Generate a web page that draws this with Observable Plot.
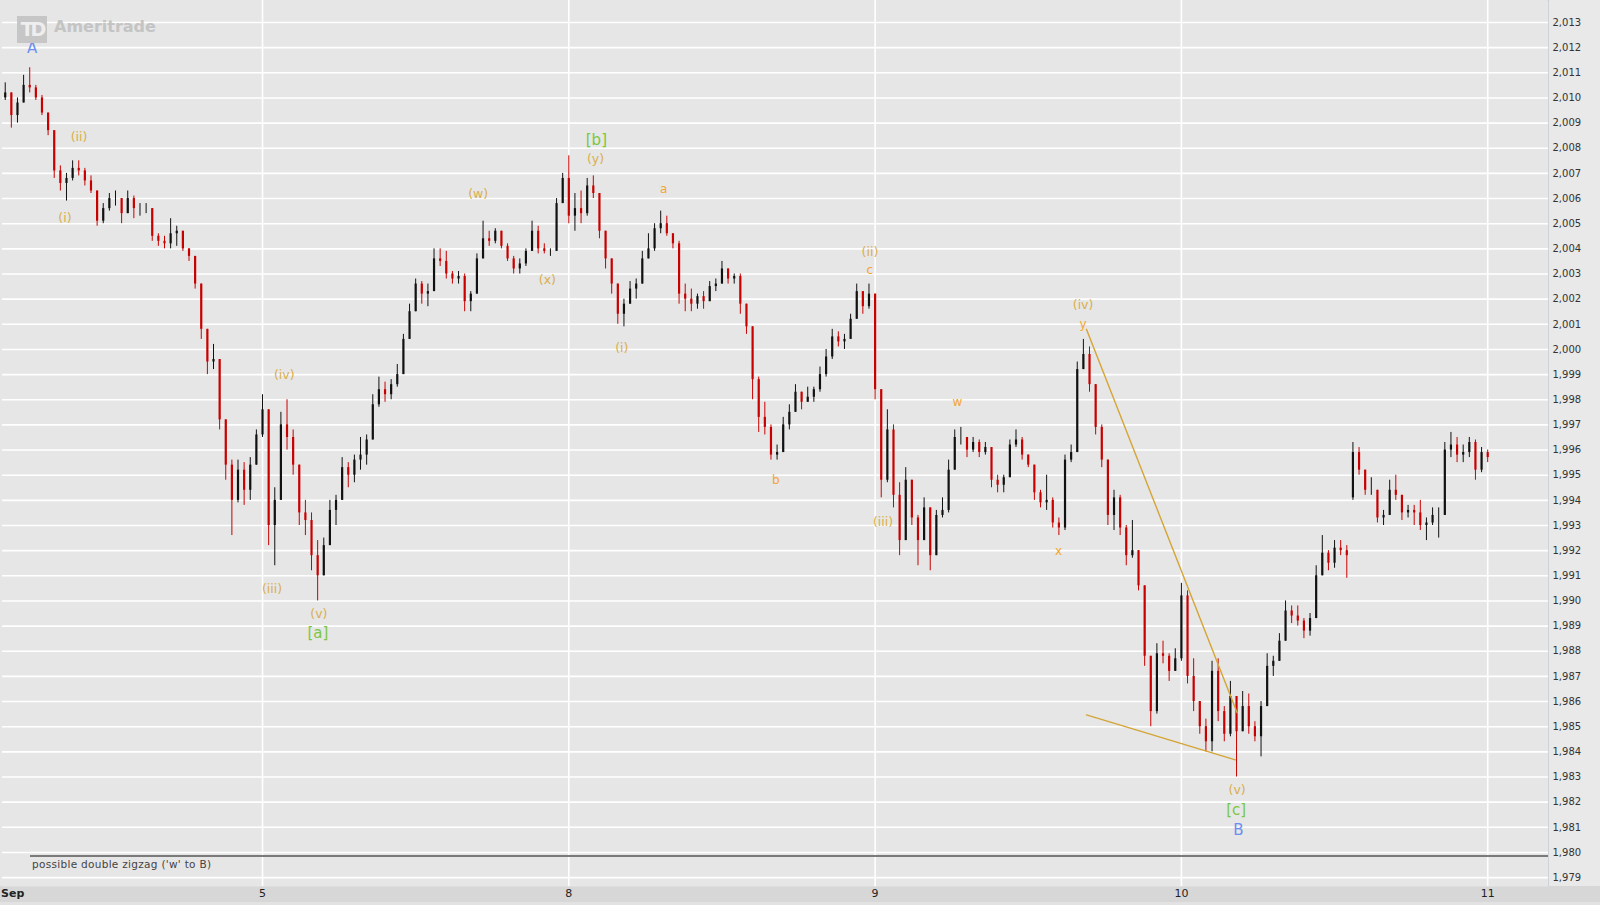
<!DOCTYPE html>
<html><head><meta charset="utf-8">
<script src="https://cdn.jsdelivr.net/npm/d3@7"></script>
<script src="https://cdn.jsdelivr.net/npm/@observablehq/plot@0.6"></script>
<style>
html,body{margin:0;padding:0;background:#e6e6e6;}
#wrap{position:relative;width:1600px;height:905px;overflow:hidden;font-family:"DejaVu Sans",Verdana,sans-serif;}
#raxis{position:absolute;left:1548px;top:0;width:52px;height:886px;background:#e9e9e9;border-left:1px solid #b4c0c8;box-sizing:border-box;}
#baxis{position:absolute;left:0;top:886px;width:1600px;height:16px;background:#d7d7d7;}
#baxis2{position:absolute;left:0;top:902px;width:1600px;height:3px;background:#e2e2e2;}
#chart{position:absolute;left:0;top:0;}
#noteline{position:absolute;left:30px;top:855px;width:1518px;height:0;border-top:2px solid #7a7a7a;}
#note{position:absolute;left:32px;top:858px;font-size:10.5px;color:#444;letter-spacing:0.3px;}
#logo{position:absolute;left:17px;top:16px;}
#logo .td{position:absolute;left:0;top:0;width:30px;height:27px;background:#c6c6c6;color:#eeeeee;font-weight:bold;font-size:19px;line-height:27px;text-align:center;letter-spacing:-3px;}
#logo .am{position:absolute;left:37px;top:1px;color:#c4c4c4;font-weight:bold;font-size:16px;white-space:nowrap;}
#sep{position:absolute;left:1px;top:887px;font-size:11px;font-weight:bold;color:#222;}
</style></head>
<body><div id="wrap">
<div id="raxis"></div><div id="baxis"></div><div id="baxis2"></div>
<div id="chart"></div>
<div id="noteline"></div>
<div id="note">possible double zigzag ('w' to B)</div>
<div id="logo"><div class="td">TD</div><div class="am">Ameritrade</div></div>
<div id="sep">Sep</div>
</div>
<script>
// ---- bars: first bar time (days from the "5" tick) and step
const barStart = -0.84, barStep = 0.02;
const open = [
2010.0,2010.2,2009.3,2009.8,2010.5,2010.4,2010.0,2009.4,2008.7,2007.1,
2006.6,2006.8,2007.2,2007.1,2006.7,2006.3,2005.1,2005.6,2006.0,2006.0,
2005.4,2006.0,2005.6,2005.6,2005.6,2004.5,2004.3,2004.2,2004.6,2004.7,
2004.0,2003.7,2002.6,2000.8,1999.5,1999.6,1997.2,1995.4,1994.0,1995.2,
1994.4,1995.4,1996.6,1997.6,1993.0,1994.0,1997.0,1996.5,1995.4,1993.5,
1993.2,1991.8,1991.0,1992.2,1993.6,1994.0,1995.3,1995.0,1995.6,1995.8,
1996.4,1997.8,1998.4,1998.2,1998.6,1999.0,2000.4,2001.5,2002.6,2002.2,
2002.3,2003.6,2003.5,2003.0,2002.8,2002.9,2001.9,2002.2,2003.6,2004.4,
2004.3,2004.7,2004.1,2003.6,2003.2,2003.4,2003.9,2004.7,2004.0,2003.9,
2003.9,2005.8,2006.8,2005.3,2005.6,2005.4,2006.5,2006.2,2004.7,2003.6,
2002.6,2001.4,2001.8,2002.4,2002.6,2003.6,2004.0,2004.8,2005.0,2004.6,
2004.2,2002.2,2002.0,2001.8,2002.1,2001.9,2002.5,2002.6,2003.2,2002.8,
2002.9,2001.8,2000.9,1998.8,1997.3,1996.9,1995.8,1995.9,1997.0,1997.5,
1998.3,1997.9,1998.1,1998.4,1999.0,1999.7,2000.5,2000.3,2000.4,2001.2,
2002.3,2001.7,2002.2,1998.4,1994.8,1996.8,1994.2,1992.4,1994.8,1993.3,
1992.4,1993.7,1991.8,1993.4,1993.6,1995.2,1996.5,1996.5,1996.0,1996.3,
1995.9,1996.1,1994.8,1994.6,1994.9,1996.2,1996.4,1995.8,1995.4,1994.3,
1993.9,1994.0,1993.1,1992.9,1995.6,1995.9,1999.2,1999.8,1998.6,1996.9,
1995.6,1993.4,1994.1,1992.9,1991.8,1992.0,1990.6,1987.8,1985.6,1987.9,
1987.8,1987.2,1987.7,1990.2,1987.0,1986.0,1985.0,1984.4,1987.2,1985.6,
1984.7,1986.2,1984.8,1985.8,1985.0,1984.6,1985.8,1987.4,1987.6,1988.4,
1989.6,1989.4,1989.2,1988.8,1989.3,1991.0,1991.9,1991.5,1992.1,1992.0,
1994.1,1995.9,1995.2,1994.4,1994.4,1993.3,1993.4,1994.4,1994.2,1993.5,
1993.6,1993.5,1993.0,1993.1,1993.4,1993.4,1996.0,1996.2,1995.8,1995.9,
1996.3,1995.2,1995.9];
const high = [
2010.6,2010.2,2010.0,2010.9,2011.2,2010.5,2010.1,2009.4,2008.7,2007.3,
2007.0,2007.5,2007.5,2007.2,2006.9,2006.3,2005.8,2006.2,2006.3,2006.0,
2006.3,2006.1,2005.8,2005.8,2005.6,2004.6,2004.5,2005.2,2004.9,2004.7,
2004.0,2003.7,2002.6,2000.8,2000.2,1999.6,1997.2,1995.6,1995.6,1995.5,
1995.7,1996.8,1998.2,1997.6,1994.5,1997.5,1998.0,1996.8,1995.4,1994.0,
1993.5,1992.4,1992.5,1994.0,1994.2,1995.7,1995.5,1995.8,1996.5,1996.6,
1998.2,1998.9,1998.7,1998.8,1999.4,2000.6,2001.8,2002.8,2002.7,2002.6,
2004.0,2004.0,2003.9,2003.1,2003.1,2003.0,2002.3,2003.8,2005.1,2004.7,
2004.8,2004.7,2004.2,2003.7,2003.6,2004.0,2005.1,2004.9,2004.2,2004.0,
2006.0,2007.0,2007.7,2006.2,2006.3,2006.8,2006.9,2006.2,2004.7,2003.6,
2002.6,2002.0,2002.7,2002.8,2003.9,2004.6,2005.0,2005.5,2005.3,2004.6,
2004.3,2002.6,2002.4,2002.2,2002.3,2002.7,2002.8,2003.5,2003.2,2003.0,
2003.0,2001.8,2000.9,1998.9,1997.9,1997.0,1996.2,1997.3,1997.8,1998.6,
1998.3,1998.5,1998.5,1999.3,2000.0,2000.8,2000.7,2000.6,2001.4,2002.6,
2002.3,2002.6,2002.2,1998.4,1997.6,1997.0,1994.7,1995.3,1994.8,1993.4,
1994.1,1993.7,1993.6,1994.1,1995.6,1996.8,1996.9,1996.5,1996.5,1996.4,
1996.3,1996.1,1995.0,1995.0,1996.4,1996.8,1996.5,1995.8,1995.4,1994.4,
1995.0,1994.1,1993.3,1995.8,1996.2,1999.5,2000.4,2000.1,1998.6,1997.0,
1995.6,1994.4,1994.2,1993.0,1993.2,1992.0,1990.6,1987.8,1988.3,1988.4,
1987.9,1988.1,1990.7,1990.4,1987.7,1986.0,1985.3,1987.6,1987.7,1985.8,
1986.8,1986.2,1986.4,1986.3,1985.2,1986.0,1987.9,1987.8,1988.7,1990.0,
1989.8,1989.8,1989.3,1989.5,1991.4,1992.6,1992.0,1992.4,1992.4,1992.2,
1996.3,1996.1,1995.2,1994.9,1994.4,1993.6,1994.8,1995.0,1994.2,1993.8,
1993.8,1994.0,1993.3,1993.7,1993.7,1996.3,1996.7,1996.5,1996.2,1996.5,
1996.4,1996.1,1996.0];
const low = [
2009.9,2008.8,2009.0,2009.8,2010.2,2009.9,2009.3,2008.5,2006.8,2006.3,
2005.9,2006.7,2006.9,2006.5,2006.2,2004.9,2005.0,2005.5,2005.7,2005.0,
2005.4,2005.2,2005.3,2005.4,2004.3,2004.1,2004.0,2004.0,2004.1,2003.9,
2003.5,2002.4,2000.4,1999.0,1999.2,1996.8,1994.8,1992.6,1993.9,1993.8,
1994.0,1995.4,1996.5,1992.2,1991.4,1994.0,1996.0,1995.0,1993.0,1992.6,
1991.2,1990.0,1991.0,1992.2,1993.0,1994.0,1994.5,1994.7,1995.2,1995.4,
1996.4,1997.7,1997.9,1998.0,1998.5,1999.0,2000.4,2001.5,2001.8,2001.7,
2002.3,2003.3,2002.8,2002.6,2002.6,2001.5,2001.5,2002.2,2003.6,2004.1,
2004.2,2004.0,2003.5,2003.0,2003.0,2003.3,2003.9,2003.8,2003.8,2003.7,
2003.9,2005.8,2005.0,2004.7,2005.0,2005.3,2006.0,2004.4,2003.2,2002.2,
2001.0,2000.9,2001.8,2002.0,2002.6,2003.6,2003.9,2004.6,2004.5,2004.0,
2001.8,2001.5,2001.5,2001.6,2001.6,2001.9,2002.3,2002.6,2002.6,2002.6,
2001.4,2000.6,1998.0,1996.7,1996.6,1995.6,1995.6,1995.9,1996.8,1997.5,
1997.6,1997.9,1997.9,1998.3,1998.9,1999.6,2000.1,2000.0,2000.4,2001.2,
2001.4,2001.6,1998.0,1994.1,1994.7,1993.7,1991.8,1992.4,1993.0,1991.4,
1992.4,1991.2,1991.8,1993.3,1993.5,1995.2,1996.2,1995.7,1995.9,1995.7,
1995.8,1994.5,1994.3,1994.3,1994.9,1996.1,1995.6,1995.3,1994.0,1993.7,
1993.6,1992.9,1992.6,1992.8,1995.5,1995.9,1999.2,1998.3,1996.6,1995.3,
1993.0,1992.8,1992.6,1991.4,1991.7,1990.4,1987.4,1985.0,1985.5,1987.5,
1986.8,1987.2,1987.6,1986.7,1985.6,1984.7,1984.0,1984.0,1985.2,1984.4,
1984.6,1983.0,1984.8,1984.7,1984.4,1983.8,1985.8,1987.0,1987.6,1988.4,
1989.1,1989.0,1988.5,1988.6,1989.3,1991.0,1991.2,1991.3,1991.8,1990.9,
1994.0,1995.0,1994.2,1994.2,1993.1,1993.0,1993.4,1994.0,1993.2,1993.3,
1993.0,1992.8,1992.4,1993.0,1992.5,1993.4,1995.7,1995.5,1995.5,1995.7,
1994.8,1995.1,1995.5];
const close = [
2010.2,2009.3,2009.8,2010.5,2010.4,2010.0,2009.4,2008.7,2007.1,2006.6,
2006.8,2007.2,2007.1,2006.7,2006.3,2005.1,2005.6,2006.0,2006.0,2005.4,
2006.0,2005.6,2005.6,2005.6,2004.5,2004.3,2004.2,2004.6,2004.7,2004.0,
2003.7,2002.6,2000.8,1999.5,1999.6,1997.2,1995.4,1994.0,1995.2,1994.4,
1995.4,1996.6,1997.6,1993.0,1994.0,1997.0,1996.5,1995.4,1993.5,1993.2,
1991.8,1991.0,1992.2,1993.6,1994.0,1995.3,1995.0,1995.6,1995.8,1996.4,
1997.8,1998.4,1998.2,1998.6,1999.0,2000.4,2001.5,2002.6,2002.2,2002.3,
2003.6,2003.5,2003.0,2002.8,2002.9,2001.9,2002.2,2003.6,2004.4,2004.3,
2004.7,2004.1,2003.6,2003.2,2003.4,2003.9,2004.7,2004.0,2003.9,2003.9,
2005.8,2006.8,2005.3,2005.6,2005.4,2006.5,2006.2,2004.7,2003.6,2002.6,
2001.4,2001.8,2002.4,2002.6,2003.6,2004.0,2004.8,2005.0,2004.6,2004.2,
2002.2,2002.0,2001.8,2002.1,2001.9,2002.5,2002.6,2003.2,2002.8,2002.9,
2001.8,2000.9,1998.8,1997.3,1996.9,1995.8,1995.9,1997.0,1997.5,1998.3,
1997.9,1998.1,1998.4,1999.0,1999.7,2000.5,2000.3,2000.4,2001.2,2002.3,
2001.7,2002.2,1998.4,1994.8,1996.8,1994.2,1992.4,1994.8,1993.3,1992.4,
1993.7,1991.8,1993.4,1993.6,1995.2,1996.5,1996.5,1996.0,1996.3,1995.9,
1996.1,1994.8,1994.6,1994.9,1996.2,1996.4,1995.8,1995.4,1994.3,1993.9,
1994.0,1993.1,1992.9,1995.6,1995.9,1999.2,1999.8,1998.6,1996.9,1995.6,
1993.4,1994.1,1992.9,1991.8,1992.0,1990.6,1987.8,1985.6,1987.9,1987.8,
1987.2,1987.7,1990.2,1987.0,1986.0,1985.0,1984.4,1987.2,1985.6,1984.7,
1986.2,1984.8,1985.8,1985.0,1984.6,1985.8,1987.4,1987.6,1988.4,1989.6,
1989.4,1989.2,1988.8,1989.3,1991.0,1991.9,1991.5,1992.1,1992.0,1991.8,
1995.9,1995.2,1994.4,1994.4,1993.3,1993.4,1994.4,1994.2,1993.5,1993.6,
1993.5,1993.0,1993.1,1993.4,1993.4,1996.0,1996.2,1995.8,1995.9,1996.3,
1995.2,1995.9,1995.7];

// ---- axis ticks
const priceTicks = d3.range(1979, 2014);
const dayTicks = [0, 1, 2, 3, 4];
const dayLabels = ["5", "8", "9", "10", "11"];

// ---- Elliott wave labels (time in days from the "5" tick, price level)
const waveText   = ["A","(i)","(ii)","(iii)","(iv)","(v)","[a]","(w)","(x)","(y)","[b]","(i)","a","b","(ii)","c","(iii)","w","x","(iv)","y","(v)","[c]","B"];
const waveT      = [-0.752,-0.645,-0.599,0.031,0.071,0.184,0.181,0.704,0.930,1.087,1.090,1.173,1.310,1.676,1.983,1.983,2.026,2.269,2.599,2.679,2.679,3.182,3.179,3.186];
const wavePrice  = [2011.97,2005.23,2008.44,1990.46,1998.98,1989.49,1988.72,2006.17,2002.76,2007.58,2008.32,2000.04,2006.37,1994.81,2003.89,2003.16,1993.14,1997.89,1991.97,2001.78,2001.01,1982.47,1981.70,1980.89];
const waveDegree = ["cycle","minor","minor","minor","minor","minor","intermediate","minor","minor","minor","intermediate","minor","minute","minute","minor","minute","minor","minute","minute","minor","minute","minor","intermediate","cycle"];

// ---- trend lines (wedge) endpoints
const upperLineT = [2.690, 3.182], upperLinePrice = [2000.8, 1985.55];
const lowerLineT = [2.690, 3.176], lowerLinePrice = [1985.47, 1983.68];

const bars = close.map((c, i) => ({t: barStart + i * barStep, o: open[i], h: high[i], l: low[i], c}));
const labels = waveText.map((s, i) => ({s, t: waveT[i], p: wavePrice[i], d: waveDegree[i]}));
const lines = [
  {t: upperLineT[0], p: upperLinePrice[0], id: "u"}, {t: upperLineT[1], p: upperLinePrice[1], id: "u"},
  {t: lowerLineT[0], p: lowerLinePrice[0], id: "l"}, {t: lowerLineT[1], p: lowerLinePrice[1], id: "l"}
];
const degColor = {cycle: "#6d8ef0", intermediate: "#7cc740", minor: "#d9ae4c", minute: "#f4a52e"};
const degSize = {cycle: 15, intermediate: 15, minor: 12.5, minute: 12};
const barColor = d => d.c >= d.o ? "#111111" : "#c80000";

const chart = Plot.plot({
  width: 1600, height: 905,
  marginLeft: 2, marginRight: 52, marginTop: 0, marginBottom: 19,
  x: {domain: [-0.8489, 4.1985]},
  y: {domain: [1978.646, 2013.875]},
  style: {background: "transparent", fontFamily: "DejaVu Sans, Verdana, sans-serif", fontSize: "10px"},
  marks: [
    Plot.frame({fill: "#e6e6e6", stroke: null}),
    Plot.gridY(priceTicks, {stroke: "#ffffff", strokeOpacity: 1, strokeWidth: 1.6}),
    Plot.gridX(dayTicks, {stroke: "#ffffff", strokeOpacity: 1, strokeWidth: 1.6}),
    Plot.axisY(priceTicks, {anchor: "right", tickSize: 0, tickPadding: 4, tickFormat: d3.format(","), fill: "#333", fontSize: 10, label: null}),
    Plot.axisX(dayTicks, {anchor: "bottom", tickSize: 0, tickPadding: 3, tickFormat: d => dayLabels[dayTicks.indexOf(d)], fill: "#222", fontSize: 11, label: null}),
    Plot.ruleX(bars, {x: "t", y1: "l", y2: "h", stroke: barColor, strokeWidth: 1}),
    Plot.ruleX(bars, {x: "t", y1: "o", y2: "c", stroke: barColor, strokeWidth: 2.2}),
    Plot.line(lines, {x: "t", y: "p", z: "id", stroke: "#d4a536", strokeWidth: 1.4}),
    Plot.text(labels, {x: "t", y: "p", text: "s", fill: d => degColor[d.d], fontSize: d => degSize[d.d], textAnchor: "middle", lineAnchor: "middle"})
  ]
});
document.getElementById("chart").appendChild(chart);
</script>
</body></html>
